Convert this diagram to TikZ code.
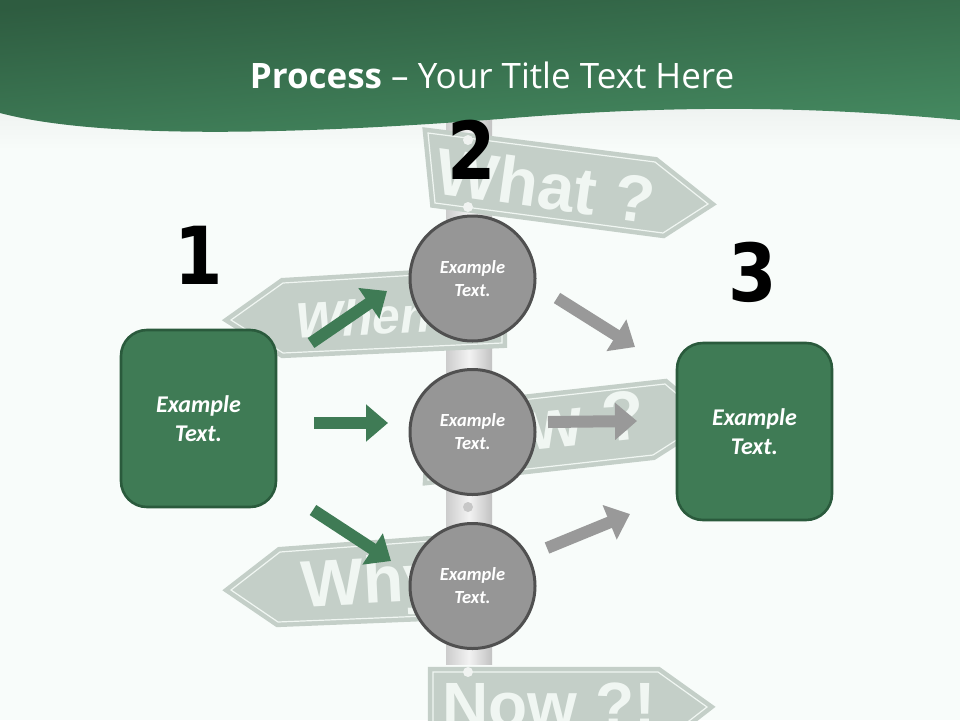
\documentclass[tikz,border=0pt]{standalone}
\usepackage{fontspec}
\setmainfont{Carlito}
\newfontfamily\signfont{Liberation Sans}
\newfontfamily\titlefont[Ligatures=TeX]{Open Sans}
\newfontfamily\numfont[FakeStretch=0.87]{DejaVu Sans}
\usetikzlibrary{arrows.meta,calc}
\definecolor{paper}{HTML}{F8FCFA}
\definecolor{signc}{HTML}{C4CFC8}
\definecolor{signl}{HTML}{F0F6F2}
\definecolor{boxc}{HTML}{3F7B55}
\definecolor{boxd}{HTML}{2A5A3C}
\definecolor{headd}{HTML}{2E5C40}
\definecolor{headl}{HTML}{468C62}
\definecolor{circc}{HTML}{969696}
\definecolor{circd}{HTML}{505050}
\definecolor{arrowg}{HTML}{999999}

\begin{document}
\begin{tikzpicture}[x=1pt,y=-1pt,
    sign/.style={fill=signc, draw=signc, double=signl, double distance=1.2pt, line width=4.5pt, line join=miter},
    signtext/.style={text=signl, font=\signfont\bfseries\fontsize{#1}{#1}\selectfont, inner sep=0pt},
    bolt/.style={circle, fill=white!75!signc, inner sep=0pt, minimum size=10pt},
    box/.style={rectangle, rounded corners=26pt, fill=boxc, draw=boxd, line width=2.6pt, minimum width=155pt, minimum height=177pt, text=white, align=center, font=\bfseries\itshape\fontsize{24}{29}\selectfont},
    disc/.style={circle, fill=circc, draw=circd, line width=3pt, minimum size=125pt, inner sep=0pt, text=white, align=center, font=\bfseries\itshape\fontsize{18.5}{23}\selectfont},
    num/.style={font=\numfont\bfseries\fontsize{80}{80}\selectfont, text=black, inner sep=0pt},
    flowg/.style={draw=boxc, line width=12pt, -{Triangle[length=22pt,width=36pt]}},
    flowc/.style={draw=arrowg, line width=12pt, -{Triangle[length=22pt,width=36pt]}}]

    \path[use as bounding box, fill=paper] (0,0) rectangle (960,720);
    \shade[top color=black!4!paper, bottom color=paper] (0,105) rectangle (960,150);

    % post
    \shade[left color=black!20, right color=black!24, middle color=white!95!black] (446,118) rectangle (492,664);
    \node[circle, fill=black!22, inner sep=0pt, minimum size=10pt] (boltc) at (468,507) {};

    % signs
    \draw[sign] (428,133) -- (655,162) -- (708,204) -- (663,233) -- (435,203) -- cycle;
    \draw[sign] (231,320) -- (283,283) -- (502,270) -- (502,343) -- (283,353) -- cycle;
    \draw[sign] (432,410) -- (665,384) -- (708,420) -- (653,455) -- (428,480) -- cycle;
    \draw[sign] (231,590) -- (280,552) -- (500,536) -- (500,613) -- (278,622) -- cycle;
    \draw[sign] (433,672) -- (658,672) -- (707,707) -- (658,745) -- (433,745) -- cycle;
    \foreach \y/ \n in {140/a, 207/b, 672/d}{
        \node[bolt] (bolt\n) at (468,\y) {};
    }

    \node[signtext=66, rotate=-8] (what) at (546,185) {What ?};
    \node[signtext=50, rotate=3, xslant=0.2] (when) at (386,316) {When ?};
    \node[signtext=70, rotate=6] (how) at (540,425) {How ?};
    \node[signtext=66, rotate=3] (why) at (400,585) {Why ?};
    \node[signtext=64, anchor=base] (now) at (549,727) {Now ?!};

    % header
    \shade[top color=headd, bottom color=headl, shading angle=5]
        (0,0) -- (960,0) -- (960,120) .. controls (830,108) and (690,103) .. (500,119)
        .. controls (330,132) and (110,142) .. (0,113) -- cycle;
    \node[text=white, font=\titlefont\fontsize{35}{35}\selectfont, inner sep=0pt] (title) at (492,75) {\textbf{Process} -- Your Title Text Here};

    \node[box] (left) at (198.5,418.5) {Example\\Text.};
    \node[box] (right) at (754.5,431.5) {Example\\Text.};

    \foreach \y/ \n in {278.5/top, 432/mid, 586/low}{
        \node[disc] (\n) at (472.5,\y) {Example\\Text.};
    }

    \node[num] (one) at (199,255) {1};
    \node[num] (two) at (472,150) {2};
    \node[num] (three) at (753,272) {3};

    \foreach \n/ \a/ \b in {ga/311/343, gb/314/423, gc/313/510, ca/557/298, cb/548/422, cc/547/548}{
        \coordinate (\n) at (\a,\b);
    }
    \coordinate (gA) at (387,291);
    \coordinate (gB) at (388,423);
    \coordinate (gC) at (391,561);
    \coordinate (cA) at (635,347);
    \coordinate (cB) at (637,421);
    \coordinate (cC) at (630,514);

    \foreach \s/ \d in {ga/gA, gb/gB, gc/gC}{
        \draw[flowg] (\s) -- (\d);
    }
    \foreach \s/ \d in {ca/cA, cb/cB, cc/cC}{
        \draw[flowc] (\s) -- (\d);
    }

\end{tikzpicture}
\end{document}
